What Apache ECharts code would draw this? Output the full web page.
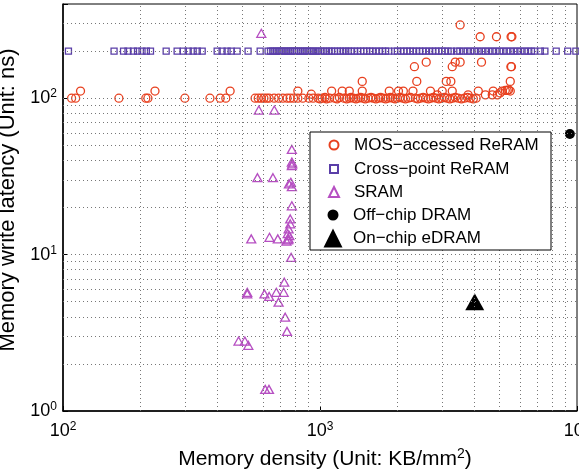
<!DOCTYPE html>
<html><head><meta charset="utf-8">
<script src="https://cdn.jsdelivr.net/npm/echarts@6/dist/echarts.min.js"></script>
<style>html,body{margin:0;padding:0;background:#fff}#c{width:579px;height:472px}</style>
</head><body><div id="c"></div>
<script>
// ---- data ----
const mosReRAM = [
[108,100],[112,100],[117,111],[165,100],[210,100],[214,100],[228,111],[298,100],[373,100],[409,100],[430,100],[447,111],
[559,100],[575,100],[590,100],[605,100],[620,100],[634,100],[663,100],[690,100],[717,100],[745,100],[765,100],[789,100],[820,111],[820,100],[857,100],[905,100],[925,106],[940,100],[983,100],
[1000,99],[1020,100],[1045,101],[1060,99],[1090,100],[1110,111],[1140,100],[1165,99],[1190,101],[1220,111],[1240,100],[1270,99],[1300,111],[1300,100],[1320,101],[1350,100],[1380,99],[1410,100],[1440,101],[1460,111],[1460,128],[1470,100],[1500,99],[1540,100],[1580,101],[1610,100],[1650,99],[1690,100],[1720,101],[1760,100],[1800,99],[1840,100],[1860,111],[1880,101],[1920,100],[1960,99],[2000,100],[2020,111],[2050,101],[2100,100],[2110,111],[2150,99],[2200,100],[2250,101],[2300,111],[2330,159],[2350,100],[2380,128],[2400,99],[2460,100],[2520,101],[2580,100],[2590,170],[2640,99],[2690,111],[2700,100],[2760,101],[2830,100],[2860,105],[2900,99],[2970,100],[2990,111],[3050,101],[3100,128],[3120,100],[3200,99],[3230,128],[3270,111],[3270,159],[3280,100],[3360,170],[3360,101],[3450,100],[3510,170],[3510,294],[3550,99],[3650,100],[3750,101],[3770,105],[3850,100],[3950,99],[4050,100],[4130,111],[4200,247],[4250,170],[4400,105],[4680,105],[4720,111],[4860,247],[4900,105],[5020,108],[5110,111],[5260,112],[5350,112],[5420,113],[5500,128],[5500,111],[5530,159],[5560,159],[5540,247],[5580,247]
];
const crossPointX = [105,158,172,179,188,195,203,211,219,252,278,294,307,321,333,348,398,416,435,451,476,525,585,628,642,655,668,680,694,706,718,731,744,757,770,783,797,811,826,842,858,874,890,907,925,945,966,988,1010,1035,1060,1085,1110,1140,1170,1200,1230,1260,1290,1320,1360,1400,1440,1480,1520,1560,1600,1650,1700,1750,1800,1850,1950,2000,2060,2120,2180,2240,2300,2370,2440,2510,2580,2660,2740,2820,2900,2980,3060,3150,3250,3400,3500,3620,3740,3860,3990,4120,4260,4400,4540,4690,4840,5000,5160,5330,5500,5680,5860,6050,6250,6450,6650,6850,7200,7500,8300,9200,9900];
const crossPointY = 200;
const sram = [[591,260],[578,84],[664,84],[777,47],[777,39],[777,37],[780,38],[571,31],[656,31],[757,28.3],[777,27.2],[770,29],[777,20.5],[766,16.9],[766,15.7],[755,14.6],[749,13.6],[755,12.6],[760,13.2],[540,12.6],[636,12.9],[685,12.6],[740,12.2],[750,12.4],[772,9.6],[726,6.66],[521,5.74],[521,5.6],[608,5.6],[634,5.4],[676,5.74],[722,5.74],[690,4.96],[732,3.98],[744,3.23],[482,2.8],[510,2.8],[526,2.63],[612,1.375],[633,1.375]];
const offChipDRAM = [[9380,59]];
const onChipEDRAM = [[4000,5]];
const seriesNames = ['MOS\u2212accessed ReRAM','Cross\u2212point ReRAM','SRAM','Off\u2212chip DRAM','On\u2212chip eDRAM'];
const xGrid = [200,300,400,500,600,700,800,900,1000,2000,3000,4000,5000,6000,7000,8000,9000];
const yGrid = [2,3,4,5,6,7,8,9,10,20,30,40,50,60,70,80,90,100,200,300];
const xRange = [100,10000];
const yRange = [1,400];

// ---- chart ----
const chart = echarts.init(document.getElementById('c'));
const FONT = 'Liberation Sans, Arial, sans-serif';
const supFmt = v => {
  const e = Math.round(Math.log10(v));
  if (Math.abs(Math.pow(10,e) - v) > 1e-6 * v) return '';
  return '{b|10}{s|' + e + '}';
};
const tickRich = { b:{fontSize:18,fontFamily:FONT,color:'#000'}, s:{fontSize:12,fontFamily:FONT,color:'#000',verticalAlign:'top',padding:[0,0,8,0]} };
const red='#e8401f', blue='#5a3ea8', purple='#b64fc2';
const gridLineStyle = {color:'#777', type:[1,3], width:1};
const legendRows = [145,169,192,215,238];
const iconSizes = [9,8,10,11,19];
const legends = seriesNames.map((n,i)=>({
  data:[n], orient:'vertical', left:333-iconSizes[i]/2, top:legendRows[i]-10, padding:0,
  itemWidth:iconSizes[i], itemHeight:iconSizes[i], itemGap:0,
  textStyle:{fontSize:17, fontFamily:FONT, color:'#000', lineHeight:20, padding:[0,0,0,15-iconSizes[i]/2]},
  selectedMode:false, z:20
}));
chart.setOption({
  animation:false,
  backgroundColor:'#fff',
  grid:{left:63, right:2, top:4, bottom:61, show:true, borderColor:'#000', borderWidth:1, containLabel:false, outerBoundsMode:'none'},
  graphic:[{type:'rect', shape:{x:310,y:132,width:241,height:118}, style:{fill:'#fff', stroke:'#000', lineWidth:1}, z:15}],
  legend: legends,
  xAxis:{type:'log', logBase:10, min:xRange[0], max:xRange[1],
    name:'Memory density (Unit: KB/mm{s|2})', nameLocation:'middle', nameGap:36,
    nameTextStyle:{fontSize:21, fontFamily:FONT, color:'#000', padding:[0,0,0,10], rich:{s:{fontSize:14,fontFamily:FONT,verticalAlign:'top',padding:[0,0,10,0]}}},
    axisLine:{lineStyle:{color:'#000',width:1.5}}, axisTick:{inside:true,length:5,lineStyle:{color:'#000'}},
    axisLabel:{formatter:supFmt, rich:tickRich, margin:10, showMaxLabel:true},
    splitLine:{show:false}},
  yAxis:{type:'log', logBase:10, min:yRange[0], max:yRange[1],
    name:'Memory write latency (Unit: ns)', nameLocation:'middle', nameGap:40,
    nameTextStyle:{fontSize:22, fontFamily:FONT, color:'#000', padding:[0,0,0,15]},
    axisLine:{lineStyle:{color:'#000',width:1.5}}, axisTick:{inside:true,length:5,lineStyle:{color:'#000'}},
    axisLabel:{formatter:supFmt, rich:tickRich, margin:6},
    splitLine:{show:false}},
  series:[
    {type:'scatter', name:'_grid', data:[], silent:true, z:1,
     markLine:{silent:true, symbol:'none', label:{show:false}, lineStyle:gridLineStyle, animation:false,
       data: xGrid.map(v=>({xAxis:v})).concat(yGrid.map(v=>({yAxis:v})))}},
    {type:'scatter', name:seriesNames[0], data:mosReRAM, symbol:'circle', symbolSize:8, z:3,
     itemStyle:{color:'rgba(0,0,0,0)', borderColor:red, borderWidth:1.3, opacity:1}},
    {type:'scatter', name:seriesNames[1], data:crossPointX.map(x=>[x,crossPointY]), symbol:'rect', symbolSize:6, z:3,
     itemStyle:{color:'rgba(0,0,0,0)', borderColor:blue, borderWidth:1.3, opacity:1}},
    {type:'scatter', name:seriesNames[2], data:sram, symbol:'triangle', symbolSize:[9,8], z:3,
     itemStyle:{color:'rgba(0,0,0,0)', borderColor:purple, borderWidth:1.3, opacity:1}},
    {type:'scatter', name:seriesNames[3], data:offChipDRAM, symbol:'circle', symbolSize:10, z:3,
     itemStyle:{color:'#000', opacity:1}},
    {type:'scatter', name:seriesNames[4], data:onChipEDRAM, symbol:'triangle', symbolSize:[19,17], z:3,
     itemStyle:{color:'#000', opacity:1}}
  ]
});
</script></body></html>
